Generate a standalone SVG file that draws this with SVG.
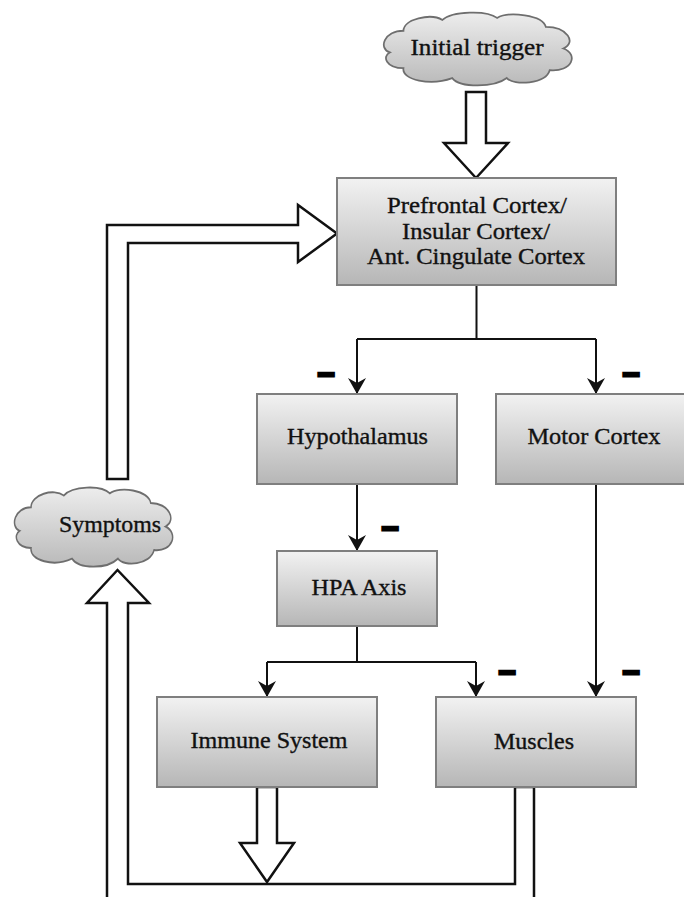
<svg xmlns="http://www.w3.org/2000/svg" width="684" height="897" viewBox="0 0 684 897">
<style>
.box{stroke:#7f7f7f;stroke-width:2;fill:url(#gBox)}
.cloud{stroke:#6e6e6e;stroke-width:1.8;fill:url(#gCloud)}
.lbl{font-family:"Liberation Serif","Times New Roman",serif;font-size:22.5px;fill:#111;stroke:#111;stroke-width:0.35;text-anchor:middle}
.con{fill:none;stroke:#111;stroke-width:2}
.hollow{fill:#fff;stroke:#111;stroke-width:2.5;stroke-linejoin:miter}
.minus{font-family:"Liberation Sans",Arial,sans-serif;font-weight:bold;font-size:30px;fill:#000;stroke:#000;stroke-width:2.8;text-anchor:middle}
</style>
<defs>
<linearGradient id="gBox" x1="0" y1="0" x2="0" y2="1">
<stop offset="0" stop-color="#f2f2f2"/>
<stop offset="1" stop-color="#b6b6b6"/>
</linearGradient>
<linearGradient id="gCloud" x1="0" y1="0" x2="0" y2="1">
<stop offset="0" stop-color="#ededed"/>
<stop offset="1" stop-color="#b9b9b9"/>
</linearGradient>
<path id="cloudShape" d="M8,40 C-4,36 2,18 22,18 C22,6 50,0 62,7 C72,-2 108,-3 118,5 C130,-2 165,2 168,14 C190,14 200,30 186,36 C202,42 195,60 172,58 C168,72 135,74 128,66 C115,76 80,76 72,66 C50,74 20,68 22,56 C4,56 0,44 8,40 Z"/>
<marker id="ah" viewBox="0 0 16 18" markerWidth="16" markerHeight="18" refX="16" refY="9" markerUnits="userSpaceOnUse" orient="auto">
<path d="M0,0 L16,9 L0,18 L5,9 Z" fill="#111"/>
</marker>
</defs>

<g id="connectors">
<path class="con" d="M476.5,285 V339 M357,339 H596"/>
<path class="con" d="M357,339 V394" marker-end="url(#ah)"/>
<path class="con" d="M596,339 V394" marker-end="url(#ah)"/>
<path class="con" d="M357,484 V551" marker-end="url(#ah)"/>
<path class="con" d="M357,626 V662 M267,662 H476"/>
<path class="con" d="M267,662 V697" marker-end="url(#ah)"/>
<path class="con" d="M476,662 V697" marker-end="url(#ah)"/>
<path class="con" d="M596,484 V697" marker-end="url(#ah)"/>
<polygon class="hollow" points="466,92 486,92 486,143 508,143 476,178 444,143 466,143"/>
<polygon class="hollow" points="107,479 107,225 298,225 298,205 337,233.5 298,262 298,243 128,243 128,479"/>
<polygon class="hollow" points="534,787 534,905 107,905 107,603 87,603 117.5,570 149,603 128,603 128,884 515,884 515,787"/>
<polygon class="hollow" points="257,787 277,787 277,843 294,843 267,882 240,843 257,843"/>
</g>

<g id="minus-signs">
<text class="minus" x="326" y="383">–</text>
<text class="minus" x="631" y="383">–</text>
<text class="minus" x="390" y="537">–</text>
<text class="minus" x="507" y="681">–</text>
<text class="minus" x="631" y="681">–</text>
</g>

<g id="initial-trigger">
<use href="#cloudShape" class="cloud" transform="translate(382,13) scale(0.975,0.986)" vector-effect="non-scaling-stroke"/>
<text class="lbl" x="477" y="55" textLength="133" lengthAdjust="spacingAndGlyphs">Initial trigger</text>
</g>

<g id="prefrontal">
<rect class="box" x="337" y="178" width="279" height="107"/>
<text class="lbl" x="477" y="213" textLength="180" lengthAdjust="spacingAndGlyphs">Prefrontal Cortex/</text>
<text class="lbl" x="476" y="239" textLength="148" lengthAdjust="spacingAndGlyphs">Insular Cortex/</text>
<text class="lbl" x="476" y="264" textLength="218" lengthAdjust="spacingAndGlyphs">Ant. Cingulate Cortex</text>
</g>

<g id="hypothalamus">
<rect class="box" x="257" y="394" width="200" height="90"/>
<text class="lbl" x="357.5" y="444" textLength="141" lengthAdjust="spacingAndGlyphs">Hypothalamus</text>
</g>

<g id="motor-cortex">
<rect class="box" x="496" y="394" width="200" height="90"/>
<text class="lbl" x="594" y="444" textLength="133" lengthAdjust="spacingAndGlyphs">Motor Cortex</text>
</g>

<g id="symptoms">
<use href="#cloudShape" class="cloud" transform="translate(13,488) scale(0.82,1.07)" vector-effect="non-scaling-stroke"/>
<text class="lbl" x="110" y="532" textLength="102" lengthAdjust="spacingAndGlyphs">Symptoms</text>
</g>

<g id="hpa-axis">
<rect class="box" x="277" y="551" width="160" height="75"/>
<text class="lbl" x="359" y="595" textLength="95" lengthAdjust="spacingAndGlyphs">HPA Axis</text>
</g>

<g id="immune-system">
<rect class="box" x="157" y="697" width="220" height="90"/>
<text class="lbl" x="269" y="748" textLength="157" lengthAdjust="spacingAndGlyphs">Immune System</text>
</g>

<g id="muscles">
<rect class="box" x="436" y="697" width="200" height="90"/>
<text class="lbl" x="534" y="749" textLength="80" lengthAdjust="spacingAndGlyphs">Muscles</text>
</g>
</svg>
